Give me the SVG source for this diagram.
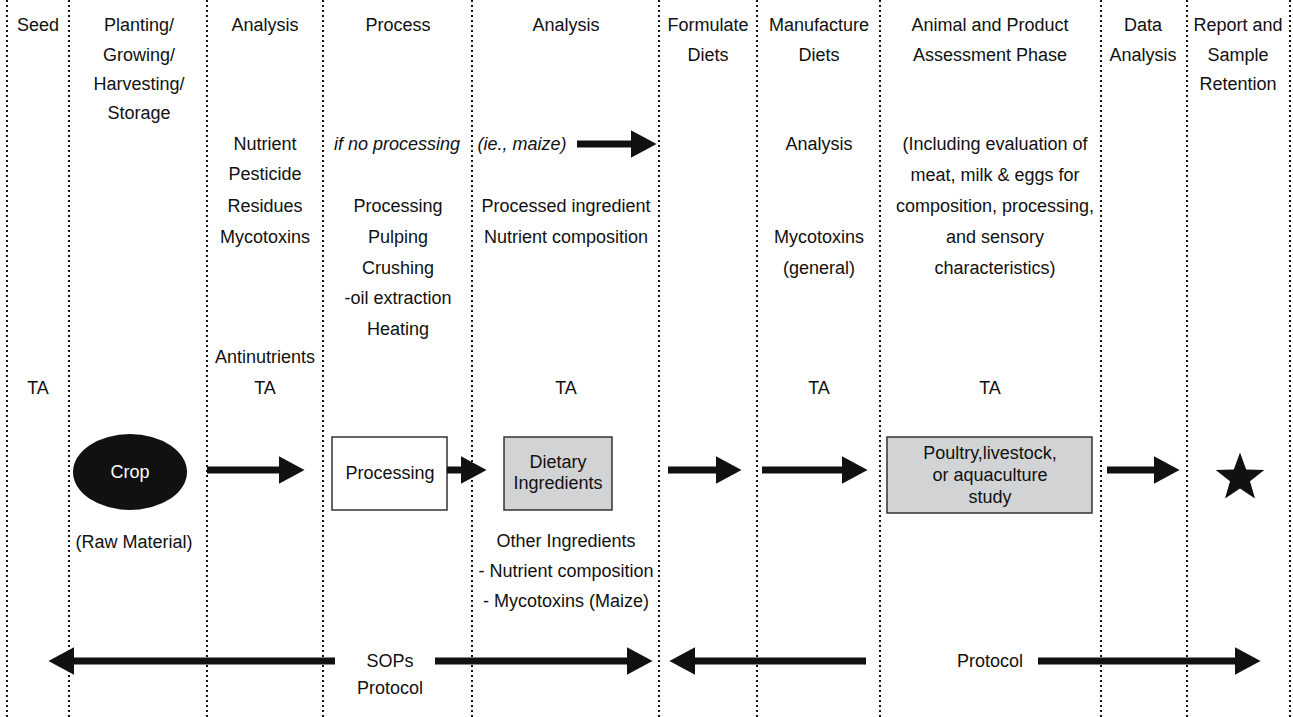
<svg xmlns="http://www.w3.org/2000/svg" width="1293" height="717" viewBox="0 0 1293 717">
<style>
text{font-family:"Liberation Sans",Arial,sans-serif;font-size:18px;fill:#111;text-anchor:middle}
.it{font-style:italic}
.dot{stroke:#111;stroke-width:2;stroke-dasharray:2 3;fill:none}
.ar{stroke:#111;stroke-width:7;fill:none;marker-end:url(#ah)}
.box{stroke:#333;stroke-width:1.5}
.gray{fill:#d2d3d5}
.white{fill:#fff}
</style>
<defs>
<marker id="ah" markerUnits="userSpaceOnUse" markerWidth="26" markerHeight="28" refX="10" refY="13.5" orient="auto" viewBox="0 0 25 27">
<path d="M0,0 L25,13.5 L0,27 z" fill="#111"/>
</marker>
</defs>
<rect width="1293" height="717" fill="#fff"/>
<g id="columns">
<line class="dot" x1="7" y1="0" x2="7" y2="717"/>
<line class="dot" x1="69" y1="0" x2="69" y2="717"/>
<line class="dot" x1="207" y1="0" x2="207" y2="717"/>
<line class="dot" x1="323" y1="0" x2="323" y2="717"/>
<line class="dot" x1="472" y1="0" x2="472" y2="717"/>
<line class="dot" x1="659" y1="0" x2="659" y2="717"/>
<line class="dot" x1="757" y1="0" x2="757" y2="717"/>
<line class="dot" x1="880" y1="0" x2="880" y2="717"/>
<line class="dot" x1="1101" y1="0" x2="1101" y2="717"/>
<line class="dot" x1="1187" y1="0" x2="1187" y2="717"/>
<line class="dot" x1="1290" y1="0" x2="1290" y2="717"/>
</g>
<g id="headers">
<text x="38" y="31">Seed</text>
<text x="139" y="31">Planting/</text>
<text x="139" y="61">Growing/</text>
<text x="139" y="90">Harvesting/</text>
<text x="139" y="119">Storage</text>
<text x="265" y="31">Analysis</text>
<text x="398" y="31">Process</text>
<text x="566" y="31">Analysis</text>
<text x="708" y="31">Formulate</text>
<text x="708" y="61">Diets</text>
<text x="819" y="31">Manufacture</text>
<text x="819" y="61">Diets</text>
<text x="990" y="31">Animal and Product</text>
<text x="990" y="61">Assessment Phase</text>
<text x="1143" y="31">Data</text>
<text x="1143" y="61">Analysis</text>
<text x="1238" y="31">Report and</text>
<text x="1238" y="61">Sample</text>
<text x="1238" y="90">Retention</text>
</g>
<g id="details">
<text x="265" y="150">Nutrient</text>
<text x="265" y="180">Pesticide</text>
<text x="265" y="212">Residues</text>
<text x="265" y="243">Mycotoxins</text>
<text x="265" y="363">Antinutrients</text>
<text x="38" y="394">TA</text>
<text x="265" y="394">TA</text>
<text x="566" y="394">TA</text>
<text x="819" y="394">TA</text>
<text x="990" y="394">TA</text>
<text class="it" x="397" y="150">if no processing</text>
<text class="it" x="522" y="150">(ie., maize)</text>
<text x="398" y="212">Processing</text>
<text x="398" y="243">Pulping</text>
<text x="398" y="274">Crushing</text>
<text x="398" y="304">-oil extraction</text>
<text x="398" y="335">Heating</text>
<text x="566" y="212">Processed ingredient</text>
<text x="566" y="243">Nutrient composition</text>
<text x="819" y="150">Analysis</text>
<text x="819" y="243">Mycotoxins</text>
<text x="819" y="274">(general)</text>
<text x="995" y="150">(Including evaluation of</text>
<text x="995" y="181">meat, milk &amp; eggs for</text>
<text x="995" y="212">composition, processing,</text>
<text x="995" y="243">and sensory</text>
<text x="995" y="274">characteristics)</text>
<text x="134" y="548">(Raw Material)</text>
<text x="566" y="547">Other Ingredients</text>
<text x="566" y="577">- Nutrient composition</text>
<text x="566" y="607">- Mycotoxins (Maize)</text>
</g>
<g id="crop">
<ellipse cx="130" cy="472" rx="57" ry="38" fill="#111"/>
<text x="130" y="478" style="fill:#fff">Crop</text>
</g>
<g id="processing">
<rect class="box white" x="332" y="437" width="115" height="73"/>
<text x="390" y="479">Processing</text>
</g>
<g id="dietary-ingredients">
<rect class="box gray" x="504" y="437" width="108" height="73"/>
<text x="558" y="468">Dietary</text>
<text x="558" y="489">Ingredients</text>
</g>
<g id="study">
<rect class="box gray" x="887" y="437" width="205" height="76"/>
<text x="990" y="459">Poultry,livestock,</text>
<text x="990" y="481">or aquaculture</text>
<text x="990" y="503">study</text>
</g>
<g id="report-star">
<polygon fill="#111" points="1240,452.5 1246.2,469.5 1264.3,470.1 1250,481.2 1255,498.6 1240,488.5 1225,498.6 1230,481.2 1215.7,470.1 1233.8,469.5"/>
</g>
<g id="connectors">
<line class="ar" x1="577" y1="144" x2="641" y2="144"/>
<line class="ar" x1="207" y1="470" x2="289" y2="470"/>
<line class="ar" x1="447" y1="470" x2="471" y2="470"/>
<line class="ar" x1="668" y1="470" x2="726" y2="470"/>
<line class="ar" x1="762" y1="470" x2="852" y2="470"/>
<line class="ar" x1="1107" y1="470" x2="1164" y2="470"/>
<line class="ar" x1="335" y1="661" x2="64" y2="661"/>
<line class="ar" x1="435" y1="661" x2="637" y2="661"/>
<line class="ar" x1="866" y1="661" x2="685" y2="661"/>
<line class="ar" x1="1038" y1="661" x2="1245" y2="661"/>
</g>
<g id="bottom-labels">
<text x="390" y="667">SOPs</text>
<text x="390" y="694">Protocol</text>
<text x="990" y="667">Protocol</text>
</g>
</svg>
